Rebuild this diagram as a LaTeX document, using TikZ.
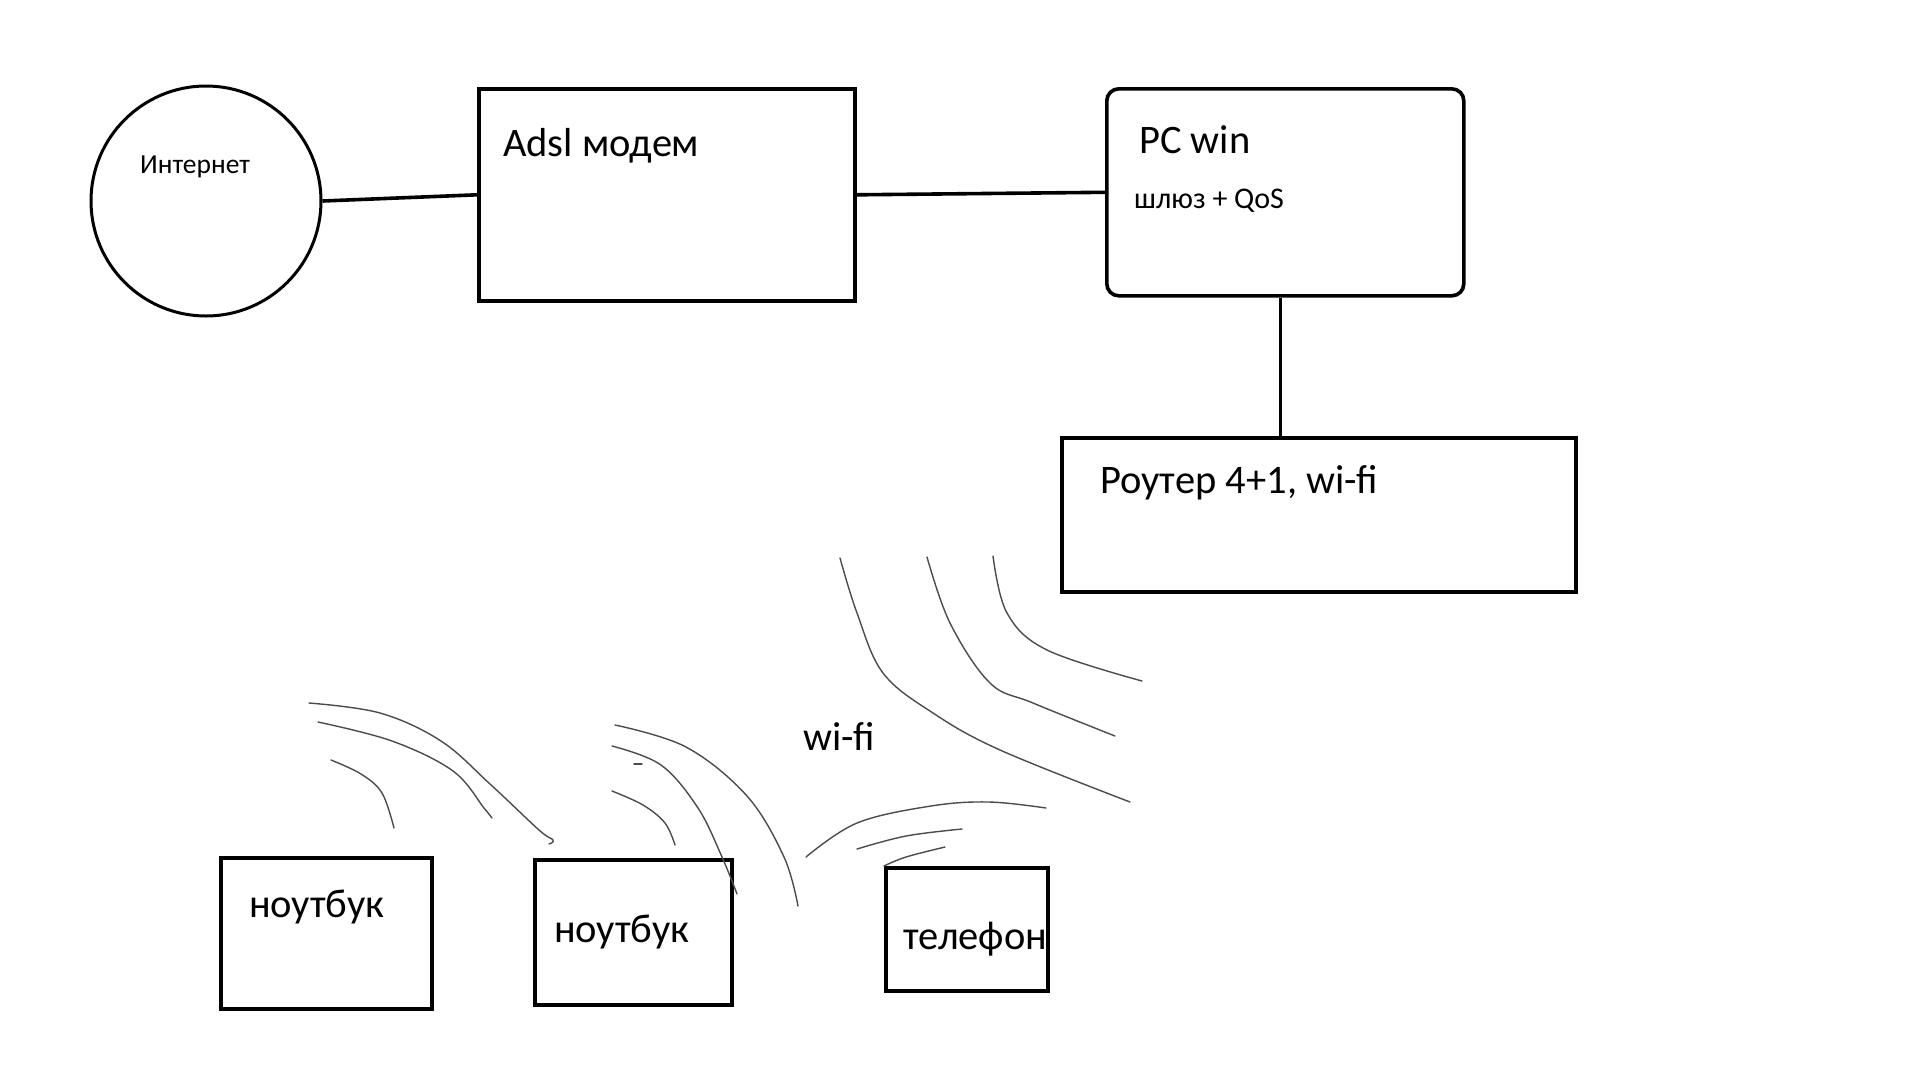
\documentclass[tikz,border=0pt]{standalone}
\usepackage{fontspec}
\setmainfont{Carlito}
\begin{document}
\begin{tikzpicture}[x=1pt,y=-1pt,
  box/.style={draw, line width=3.6pt, inner sep=0pt, anchor=north west},
  lbl/.style={anchor=west, inner sep=0pt, font=\fontsize{40.5}{48}\selectfont},
  midlbl/.style={anchor=west, inner sep=0pt, font=\fontsize{30}{36}\selectfont},
  smalllbl/.style={anchor=west, inner sep=0pt, font=\fontsize{27.5}{33}\selectfont},
  link/.style={line width=3.6pt},
  wave/.style={line width=1.4pt, draw=black!70, line cap=round}]
\useasboundingbox[fill=white] (0,0) rectangle (1920,1080);

% nodes
\node[draw, circle, line width=3pt, minimum size=230pt, inner sep=0pt] (inet) at (206,201) {};
\node[smalllbl] (inettxt) at (140,167) {Интернет};

\node[box, minimum width=376pt, minimum height=212pt] (modem) at (477,87) {};
\node[lbl] (modemtxt) at (503,146) {Adsl модем};

\node[box, rounded corners=12pt, minimum width=357pt, minimum height=207pt] (pc) at (1105,87) {};
\node[lbl] (pctxt) at (1139,140) {PC win};
\node[midlbl] (pctxt2) at (1134,201) {шлюз + QoS};

\node[box, minimum width=514pt, minimum height=154pt] (router) at (1060,436) {};
\node[lbl] (routertxt) at (1100,483) {Роутер 4+1, wi-fi};

\node[box, minimum width=211pt, minimum height=151pt] (nb1) at (219,856) {};
\node[lbl] (nb1txt) at (249,907) {ноутбук};

\node[box, minimum width=197pt, minimum height=145pt] (nb2) at (533,858) {};
\node[lbl] (nb2txt) at (554,932) {ноутбук};

\node[box, minimum width=162pt, minimum height=123pt] (phone) at (884,866) {};
\node[lbl] (phonetxt) at (903,939) {телефон};

\node[lbl] (wifitxt) at (803,736) {wi-fi};

% connectors
\draw[link] (inet.east) -- (modem.west);
\draw[link] (modem.east) -- (pc.west);
\draw[link] ([xshift=-5pt]pc.south) -- ([xshift=-5pt]pc.south |- router.north);

% wi-fi waves near router
\draw[wave] plot[smooth, tension=0.6] coordinates {(840,558) (857,613) (883,673) (933,713) (1000,750) (1130,802)};
\draw[wave] plot[smooth, tension=0.6] coordinates {(927,557) (950,623) (990,683) (1033,703) (1115,736)};
\draw[wave] plot[smooth, tension=0.6] coordinates {(993,556) (1007,613) (1047,650) (1142,681)};

% waves near laptop 1
\draw[wave] plot[smooth, tension=0.6] coordinates {(309,703) (380,713) (441,741) (490,784) (539,830) (553,840) (549,844)};
\draw[wave] plot[smooth, tension=0.6] coordinates {(318,722) (392,741) (453,771) (484,808) (492,818)};
\draw[wave] plot[smooth, tension=0.6] coordinates {(331,760) (361,774) (382,793) (394,828)};

% waves near laptop 2
\draw[wave] plot[smooth, tension=0.6] coordinates {(615,725) (686,747) (747,796) (784,857) (798,906)};
\draw[wave] plot[smooth, tension=0.6] coordinates {(612,746) (661,765) (698,808) (722,857) (737,894)};
\draw[wave] (634,764) -- (642,764);
\draw[wave] plot[smooth, tension=0.6] coordinates {(612,791) (643,805) (665,823) (675,845)};

% waves near phone
\draw[wave] plot[smooth, tension=0.6] coordinates {(806,857) (857,823) (931,806) (989,802) (1046,808)};
\draw[wave] plot[smooth, tension=0.6] coordinates {(857,849) (906,836) (962,829)};
\draw[wave] plot[smooth, tension=0.6] coordinates {(884,866) (906,857) (945,847)};
\end{tikzpicture}
\end{document}
